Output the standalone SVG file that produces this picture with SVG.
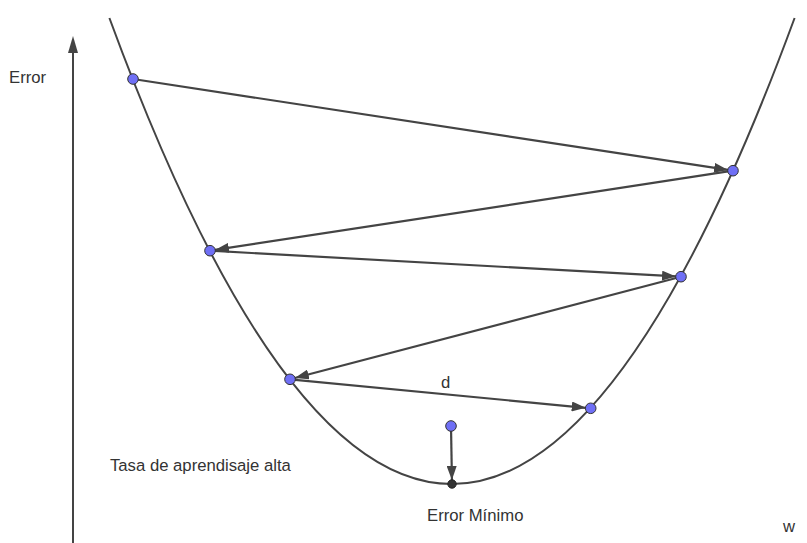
<svg xmlns="http://www.w3.org/2000/svg" width="807" height="543" viewBox="0 0 807 543">
<style>
.lbl{font-family:"Liberation Sans",Arial,sans-serif;font-size:16.7px;fill:#333}
.curve{fill:none;stroke:#444;stroke-width:2}
.conn{fill:none;stroke:#444;stroke-width:2.2}
.pt{fill:#6f6ff5;stroke:#333;stroke-width:1}
.pt0{fill:#333;stroke:#222;stroke-width:1}
</style>
<defs>
<marker id="ah" markerUnits="userSpaceOnUse" markerWidth="20" markerHeight="10" refX="19" refY="5" orient="auto">
<path d="M0,0 L14,5 L0,10 z" fill="#444"/>
</marker>
<marker id="ah2" markerUnits="userSpaceOnUse" markerWidth="20" markerHeight="10" refX="18" refY="5" orient="auto">
<path d="M0,0 L14,5 L0,10 z" fill="#444"/>
</marker>
<marker id="ax" markerUnits="userSpaceOnUse" markerWidth="18" markerHeight="10" refX="0" refY="5" orient="auto">
<path d="M0,0 L17,5 L0,10 z" fill="#444"/>
</marker>
</defs>
<rect width="807" height="543" fill="#fff"/>
<g id="axis">
<line x1="73" y1="543" x2="73" y2="53" stroke="#444" stroke-width="2" marker-end="url(#ax)"/>
</g>
<g id="parabola">
<path class="curve" d="M109.4,18 Q452,950 794.6,18"/>
</g>
<g id="connectors">
<line class="conn" x1="133" y1="79" x2="733" y2="170.7" marker-end="url(#ah)"/>
<line class="conn" x1="733" y1="170.7" x2="210" y2="250.7" marker-end="url(#ah)"/>
<line class="conn" x1="210" y1="250.7" x2="681" y2="276.7" marker-end="url(#ah)"/>
<line class="conn" x1="681" y1="276.7" x2="290" y2="379.3" marker-end="url(#ah)"/>
<line class="conn" x1="290" y1="379.3" x2="590.7" y2="408.3" marker-end="url(#ah)"/>
<line class="conn" x1="451" y1="426" x2="452" y2="484" marker-end="url(#ah2)"/>
</g>
<g id="p1"><circle class="pt" cx="133" cy="79" r="5.3"/></g>
<g id="p2"><circle class="pt" cx="733" cy="170.7" r="5.3"/></g>
<g id="p3"><circle class="pt" cx="210" cy="250.7" r="5.3"/></g>
<g id="p4"><circle class="pt" cx="681" cy="276.7" r="5.3"/></g>
<g id="p5"><circle class="pt" cx="290" cy="379.3" r="5.3"/></g>
<g id="p6"><circle class="pt" cx="590.7" cy="408.3" r="5.3"/></g>
<g id="p7"><circle class="pt" cx="451" cy="426" r="5.3"/></g>
<g id="pmin"><circle class="pt0" cx="452" cy="484" r="4.2"/></g>
<g id="labels">
<text class="lbl" x="9" y="83">Error</text>
<text class="lbl" x="441" y="388">d</text>
<text class="lbl" x="110" y="471">Tasa de aprendisaje alta</text>
<text class="lbl" x="427" y="521">Error Mínimo</text>
<text class="lbl" x="783" y="532">w</text>
</g>
</svg>
